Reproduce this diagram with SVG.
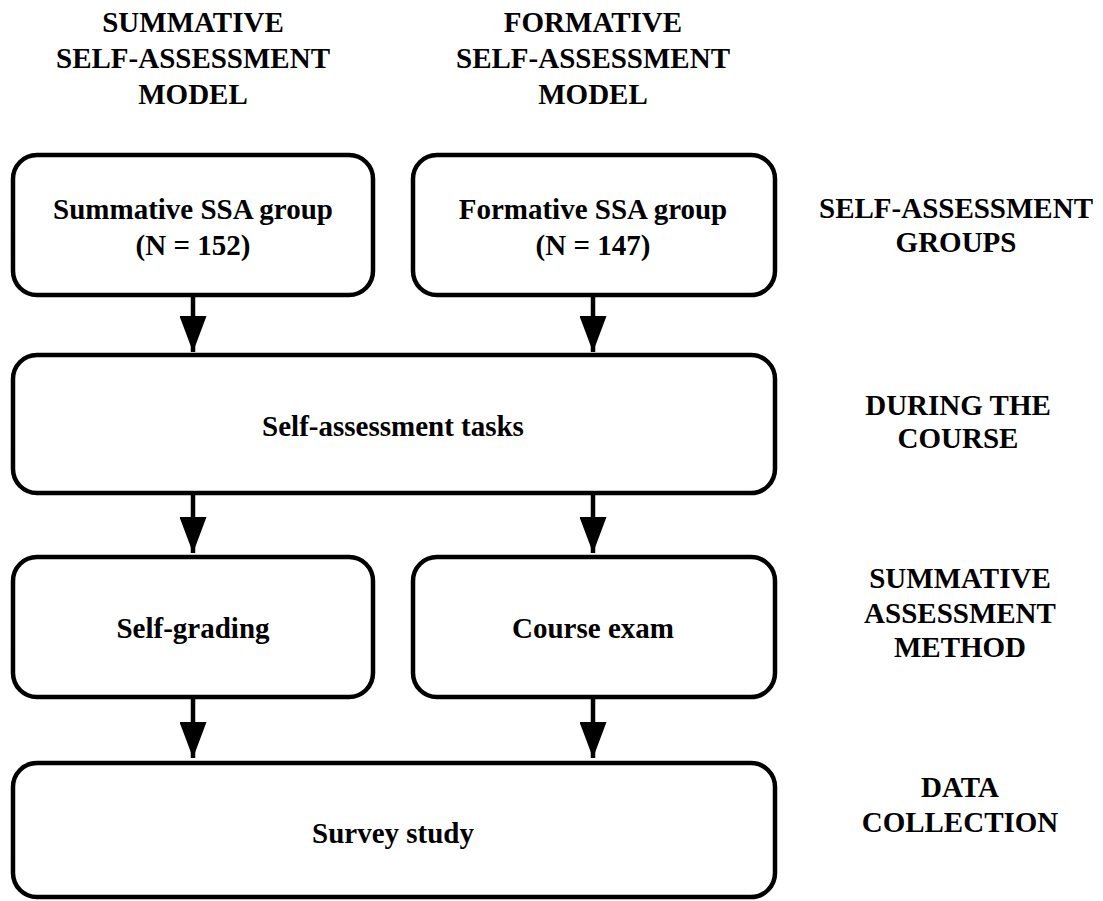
<svg xmlns="http://www.w3.org/2000/svg" width="1103" height="901" viewBox="0 0 1103 901">
<defs>
<style>
.box{fill:#fff;stroke:#000;stroke-width:4.5}
.t{font-family:"Liberation Serif","Times New Roman",serif;font-weight:bold;font-size:29px;fill:#000;text-anchor:middle}
.h{font-family:"Liberation Serif","Times New Roman",serif;font-weight:bold;font-size:29px;fill:#000;text-anchor:middle}
.ln{stroke:#000;stroke-width:4.5;fill:none}
</style>
<marker id="ah" markerWidth="8" markerHeight="6" refX="8" refY="3" orient="auto" markerUnits="strokeWidth" viewBox="0 0 8 6">
<path d="M0,0 L8,3 L0,6 Z" fill="#000"/>
</marker>
</defs>
<rect width="1103" height="901" fill="#fff"/>
<g id="headers">
<text class="h" x="193" y="32">SUMMATIVE</text>
<text class="h" x="193" y="68">SELF-ASSESSMENT</text>
<text class="h" x="193" y="104">MODEL</text>
<text class="h" x="593" y="32">FORMATIVE</text>
<text class="h" x="593" y="68">SELF-ASSESSMENT</text>
<text class="h" x="593" y="104">MODEL</text>
</g>
<g id="side-labels">
<text class="h" x="956" y="218">SELF-ASSESSMENT</text>
<text class="h" x="956" y="252">GROUPS</text>
<text class="h" x="958" y="415">DURING THE</text>
<text class="h" x="958" y="448">COURSE</text>
<text class="h" x="960" y="588">SUMMATIVE</text>
<text class="h" x="960" y="623">ASSESSMENT</text>
<text class="h" x="960" y="657">METHOD</text>
<text class="h" x="960" y="797">DATA</text>
<text class="h" x="960" y="832">COLLECTION</text>
</g>
<g id="node-summative">
<rect class="box" x="13" y="155" width="360" height="140" rx="24"/>
<text class="t" x="193" y="219">Summative SSA group</text>
<text class="t" x="193" y="255">(N = 152)</text>
</g>
<g id="node-formative">
<rect class="box" x="413" y="155" width="362" height="140" rx="24"/>
<text class="t" x="593" y="219">Formative SSA group</text>
<text class="t" x="593" y="255">(N = 147)</text>
</g>
<g id="node-tasks">
<rect class="box" x="13" y="355" width="762" height="138" rx="24"/>
<text class="t" x="393" y="436">Self-assessment tasks</text>
</g>
<g id="node-selfgrading">
<rect class="box" x="13" y="557" width="360" height="140" rx="24"/>
<text class="t" x="193" y="638">Self-grading</text>
</g>
<g id="node-exam">
<rect class="box" x="413" y="557" width="362" height="140" rx="24"/>
<text class="t" x="593" y="638">Course exam</text>
</g>
<g id="node-survey">
<rect class="box" x="13" y="763" width="762" height="134" rx="24"/>
<text class="t" x="393" y="843">Survey study</text>
</g>
<g id="connectors">
<line class="ln" x1="193" y1="297" x2="193" y2="352" marker-end="url(#ah)"/>
<line class="ln" x1="593" y1="297" x2="593" y2="352" marker-end="url(#ah)"/>
<line class="ln" x1="193" y1="495" x2="193" y2="553" marker-end="url(#ah)"/>
<line class="ln" x1="593" y1="495" x2="593" y2="553" marker-end="url(#ah)"/>
<line class="ln" x1="193" y1="699" x2="193" y2="758" marker-end="url(#ah)"/>
<line class="ln" x1="593" y1="699" x2="593" y2="758" marker-end="url(#ah)"/>
</g>
</svg>
